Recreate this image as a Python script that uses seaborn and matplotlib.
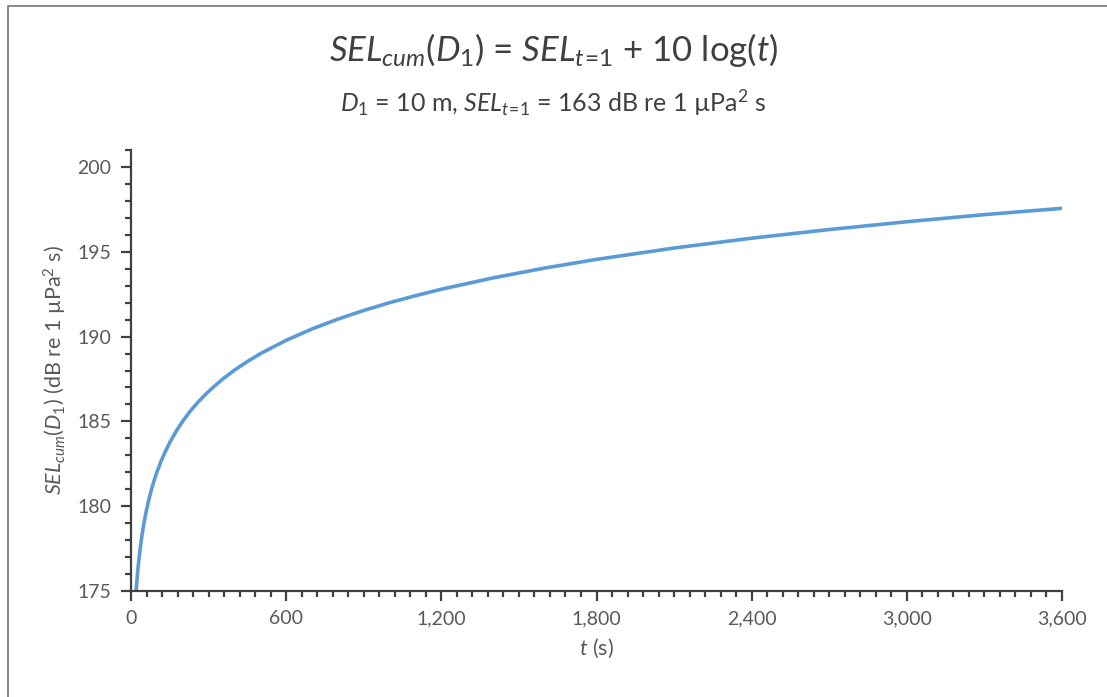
import matplotlib
matplotlib.use("Agg")
import matplotlib.pyplot as plt
from matplotlib.patches import Rectangle
from matplotlib.ticker import MultipleLocator, FuncFormatter
import seaborn as sns
import pandas as pd

# Values
t_seconds = [20, 21, 22, 24, 26, 28, 30, 33, 36, 40, 45, 50, 55, 60, 70, 80, 90, 100, 115, 130,
             150, 175, 200, 230, 260, 300, 350, 400, 450, 500, 600, 700, 800, 900, 1000, 1100,
             1200, 1400, 1600, 1800, 2100, 2400, 2700, 3000, 3300, 3600]
sel_cum = [175.01, 175.22, 175.42, 175.80, 176.15, 176.47, 176.77, 177.19, 177.56, 178.02,
           178.53, 178.99, 179.40, 179.78, 180.45, 181.03, 181.54, 182.00, 182.61, 183.14,
           183.76, 184.43, 185.01, 185.62, 186.15, 186.77, 187.44, 188.02, 188.53, 188.99,
           189.78, 190.45, 191.03, 191.54, 192.00, 192.41, 192.79, 193.46, 194.04, 194.55,
           195.22, 195.80, 196.31, 196.77, 197.19, 197.56]

x_major_ticks = [0, 600, 1200, 1800, 2400, 3000, 3600]
y_major_ticks = [175, 180, 185, 190, 195, 200]

sns.set_style("white")
FONT = "Lato"
plt.rcParams["font.family"] = [FONT, "DejaVu Sans"]
plt.rcParams["mathtext.fontset"] = "custom"
plt.rcParams["mathtext.rm"] = FONT
plt.rcParams["mathtext.it"] = FONT + ":italic"
plt.rcParams["mathtext.bf"] = FONT + ":bold"

grey_text = "#595959"
axis_col = "#404040"

fig = plt.figure(figsize=(11.07, 6.97), dpi=100)
fig.patches.append(Rectangle((8 / 1107, -0.1), 1.2, 1.1 - 6 / 697, transform=fig.transFigure,
                             fill=False, edgecolor="#7f7f7f", linewidth=1.3, zorder=0))

ax = fig.add_axes([131 / 1107, 1 - 591 / 697, (1062 - 131) / 1107, (591 - 150) / 697])

df = pd.DataFrame({"t": t_seconds, "SEL": sel_cum})
sns.lineplot(data=df, x="t", y="SEL", ax=ax, color="#5B9BD5", linewidth=2.6)

ax.set_xlim(0, 3600)
ax.set_ylim(175, 201)
ax.set_xticks(x_major_ticks)
ax.set_yticks(y_major_ticks)
ax.xaxis.set_minor_locator(MultipleLocator(60))
ax.yaxis.set_minor_locator(MultipleLocator(1))
ax.xaxis.set_major_formatter(FuncFormatter(lambda v, p: f"{int(v):,}"))

for s in ["top", "right"]:
    ax.spines[s].set_visible(False)
for s in ["left", "bottom"]:
    ax.spines[s].set_color(axis_col)
    ax.spines[s].set_linewidth(1.6)

ax.tick_params(axis="both", which="major", direction="out", length=7, width=1.6,
               color=axis_col, labelcolor=grey_text, labelsize=14, pad=7,
               bottom=True, left=True)
ax.tick_params(axis="both", which="minor", direction="out", length=4, width=1.6,
               color=axis_col, bottom=True, left=True)

ax.set_xlabel(r"$\mathit{t}$ (s)", fontsize=15.5, color=grey_text, labelpad=7)
ax.set_ylabel(r"$\mathit{SEL}_{\mathit{cum}}(\mathit{D}_{\mathit{1}})$ (dB re 1 µPa$^{2}$ s)",
              fontsize=15.5, color=grey_text, labelpad=6)

fig.text(0.5, 1 - 50 / 697,
         r"$\mathit{SEL}_{\mathit{cum}}(\mathit{D}_{\mathit{1}})$ = $\mathit{SEL}_{\mathit{t}\!=\!\mathit{1}}$ + 10 log($\mathit{t}$)",
         ha="center", va="center", fontsize=25, color="#404040")
fig.text(0.5, 1 - 103 / 697,
         r"$\mathit{D}_{\mathit{1}}$ = 10 m, $\mathit{SEL}_{\mathit{t}\!=\!\mathit{1}}$ = 163 dB re 1 µPa$^{2}$ s",
         ha="center", va="center", fontsize=18, color="#404040")

fig.savefig("out.png", dpi=100, facecolor="white")
